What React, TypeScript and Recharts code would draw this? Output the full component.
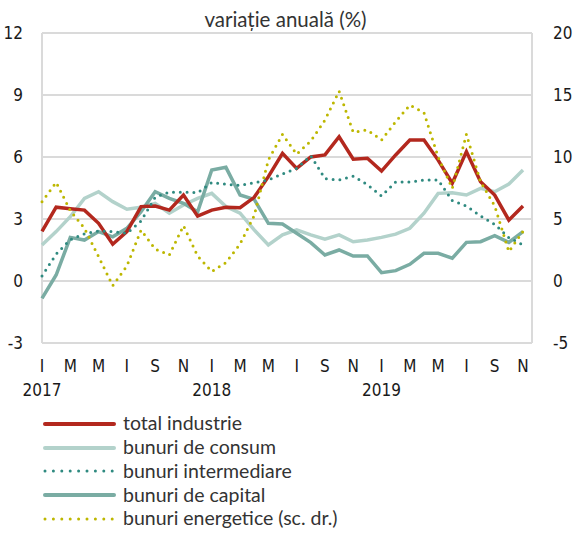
import { CartesianGrid, Line, LineChart, XAxis, YAxis } from "recharts";

// ian 2017 - nov 2019, variație anuală (%)
const YEARS = [2017, 2018, 2019];
const MONTH_INITIALS = ["I", "F", "M", "A", "M", "I", "I", "A", "S", "O", "N", "D"];
const MONTH_COUNT = 35;

const TOTAL_INDUSTRIE = [
  2.4, 3.57, 3.5, 3.43, 2.79, 1.78, 2.39, 3.6, 3.63, 3.43, 4.16, 3.14, 3.43, 3.57, 3.55, 4.05, 5.05, 6.18,
  5.45, 6.0, 6.1, 6.98, 5.89, 5.94, 5.32, 6.1, 6.82, 6.82, 5.85, 4.73, 6.26, 4.8, 4.16, 2.95, 3.63,
];
const BUNURI_CONSUM = [
  1.74, 2.39, 3.11, 4.0, 4.32, 3.84, 3.47, 3.57, 3.76, 3.28, 3.68, 4.0, 4.24, 3.6, 3.28, 2.47, 1.74, 2.23,
  2.47, 2.23, 2.02, 2.23, 1.9, 1.98, 2.11, 2.27, 2.55, 3.28, 4.24, 4.27, 4.16, 4.48, 4.32, 4.69, 5.37,
];
const BUNURI_INTERMEDIARE = [
  0.24, 1.3, 2.0, 2.28, 2.42, 2.39, 2.31, 2.9, 4.05, 4.3, 4.3, 4.27, 4.77, 4.68, 4.63, 4.76, 4.89, 5.18,
  5.45, 6.06, 4.95, 4.89, 5.07, 4.66, 4.11, 4.79, 4.79, 4.89, 4.89, 3.89, 3.63, 3.15, 2.74, 2.1, 1.75,
];
const BUNURI_CAPITAL = [
  -0.84, 0.29, 2.11, 1.98, 2.39, 2.14, 2.55, 3.35, 4.32, 4.0, 3.76, 3.35, 5.37, 5.5, 4.16, 3.95, 2.79, 2.76,
  2.31, 1.86, 1.26, 1.5, 1.21, 1.21, 0.4, 0.5, 0.81, 1.34, 1.34, 1.1, 1.87, 1.9, 2.19, 1.87, 2.39,
];
// scala din dreapta
const BUNURI_ENERGETICE = [
  6.4, 7.96, 5.67, 4.25, 1.96, -0.38, 1.21, 4.11, 2.58, 2.1, 4.46, 2.02, 0.76, 1.48, 2.98, 5.27, 9.76, 11.83,
  10.22, 11.29, 12.98, 15.3, 12.0, 12.18, 11.37, 12.85, 14.19, 13.58, 10.0, 7.47, 11.83, 8.0, 6.05, 2.37, 4.0,
];

const LEFT_TICKS = [-3, 0, 3, 6, 9, 12];
const RIGHT_TICKS = [-5, 0, 5, 10, 15, 20];
const LABEL_TICKS = [0, 2, 4, 6, 8, 10, 12, 14, 16, 18, 20, 22, 24, 26, 28, 30, 32, 34];
const GRID_TICKS = [0, 4, 8, 12, 16, 20, 24, 28, 32];

const MONTHS = YEARS.flatMap((year) => MONTH_INITIALS.map((initial, m) => ({ year, initial, m }))).slice(
  0,
  MONTH_COUNT,
);

const data = MONTHS.map((month, i) => ({
  i,
  total: TOTAL_INDUSTRIE[i],
  consum: BUNURI_CONSUM[i],
  intermediare: BUNURI_INTERMEDIARE[i],
  capital: BUNURI_CAPITAL[i],
  energetice: BUNURI_ENERGETICE[i],
}));

const COLORS = {
  total: "#b3281e",
  consum: "#b3d2cb",
  intermediare: "#2f8a80",
  capital: "#7aaca3",
  energetice: "#bdb700",
};

const LEGEND = [
  { key: "total", label: "total industrie", dotted: false },
  { key: "consum", label: "bunuri de consum", dotted: false },
  { key: "intermediare", label: "bunuri intermediare", dotted: true },
  { key: "capital", label: "bunuri de capital", dotted: false },
  { key: "energetice", label: "bunuri energetice (sc. dr.)", dotted: true },
] as const;

const TICK_FONT = "'Liberation Sans Narrow', 'DejaVu Sans Condensed', sans-serif";
const TEXT_FONT = "Lato, 'Open Sans', sans-serif";
const TICK_STYLE = { fontFamily: TICK_FONT, fontSize: 17, fill: "#1a1a1a" };

function MonthTick(props: any) {
  const { x, y, payload } = props;
  const month = MONTHS[payload.value];
  if (!month) return null;
  return (
    <g>
      <text x={x} y={y + 29} textAnchor="middle" {...TICK_STYLE}>
        {month.initial}
      </text>
      {month.m === 0 && (
        <text x={x} y={y + 53} textAnchor="middle" {...TICK_STYLE}>
          {month.year}
        </text>
      )}
    </g>
  );
}

function LegendRow({ color, label, dotted }: { color: string; label: string; dotted: boolean }) {
  return (
    <div style={{ display: "flex", alignItems: "center", height: 23.8 }}>
      <svg width={80} height={10} style={{ display: "block" }}>
        <line
          x1={2}
          x2={dotted ? 70 : 71}
          y1={5}
          y2={5}
          stroke={color}
          strokeWidth={dotted ? 3 : 4}
          strokeDasharray={dotted ? "0 8.4" : undefined}
          strokeLinecap="round"
        />
      </svg>
      <span style={{ fontFamily: TEXT_FONT, fontSize: 19.5, color: "#333", lineHeight: 1, marginTop: -2 }}>
        {label}
      </span>
    </div>
  );
}

export default function App() {
  return (
    <div style={{ position: "absolute", left: 0, top: 0, width: 575, height: 533, background: "#fff" }}>
      <div
        style={{
          position: "absolute",
          top: 7,
          left: 0,
          width: 571,
          textAlign: "center",
          fontFamily: TEXT_FONT,
          fontSize: 20.5,
          color: "#333",
          lineHeight: "24px",
        }}
      >
        variație anuală (%)
      </div>
      <LineChart width={575} height={410} data={data} margin={{ top: 33, right: 0, bottom: 0, left: 0 }}>
        <CartesianGrid
          xAxisId="g"
          yAxisId="l"
          stroke="#dadada"
          strokeWidth={2}
          horizontalValues={LEFT_TICKS}
        />
        <XAxis
          xAxisId="m"
          dataKey="i"
          type="number"
          domain={[0, MONTH_COUNT - 1]}
          ticks={LABEL_TICKS}
          interval={0}
          padding={{ left: 0, right: 9 }}
          axisLine={false}
          tickLine={false}
          tickSize={0}
          tickMargin={0}
          height={67}
          tick={<MonthTick />}
        />
        <XAxis
          xAxisId="g"
          dataKey="i"
          type="number"
          domain={[0, MONTH_COUNT - 1]}
          ticks={GRID_TICKS}
          padding={{ left: 0, right: 9 }}
          axisLine={false}
          tickLine={false}
          tick={false}
          height={0}
        />
        <YAxis
          yAxisId="l"
          domain={[-3, 12]}
          ticks={LEFT_TICKS}
          interval={0}
          width={42}
          axisLine={false}
          tickLine={false}
          tickSize={0}
          tickMargin={19}
          tick={TICK_STYLE}
        />
        <YAxis
          yAxisId="r"
          orientation="right"
          domain={[-5, 20]}
          ticks={RIGHT_TICKS}
          interval={0}
          width={43}
          axisLine={false}
          tickLine={false}
          tickSize={0}
          tickMargin={21}
          tick={{ ...TICK_STYLE, textAnchor: "start" }}
        />
        <Line
          xAxisId="m"
          yAxisId="l"
          dataKey="consum"
          type="linear"
          stroke={COLORS.consum}
          strokeWidth={3.5}
          dot={false}
          activeDot={false}
          isAnimationActive={false}
        />
        <Line
          xAxisId="m"
          yAxisId="l"
          dataKey="capital"
          type="linear"
          stroke={COLORS.capital}
          strokeWidth={3.5}
          dot={false}
          activeDot={false}
          isAnimationActive={false}
        />
        <Line
          xAxisId="m"
          yAxisId="l"
          dataKey="total"
          type="linear"
          stroke={COLORS.total}
          strokeWidth={3.5}
          dot={false}
          activeDot={false}
          isAnimationActive={false}
        />
        <Line
          xAxisId="m"
          yAxisId="l"
          dataKey="intermediare"
          type="linear"
          stroke={COLORS.intermediare}
          strokeWidth={3}
          strokeDasharray="0 6.8"
          strokeLinecap="round"
          dot={false}
          activeDot={false}
          isAnimationActive={false}
        />
        <Line
          xAxisId="m"
          yAxisId="r"
          dataKey="energetice"
          type="linear"
          stroke={COLORS.energetice}
          strokeWidth={3}
          strokeDasharray="0 6.8"
          strokeLinecap="round"
          dot={false}
          activeDot={false}
          isAnimationActive={false}
        />
      </LineChart>
      <div style={{ position: "absolute", left: 43, top: 412 }}>
        {LEGEND.map((item) => (
          <LegendRow key={item.key} color={COLORS[item.key]} label={item.label} dotted={item.dotted} />
        ))}
      </div>
    </div>
  );
}
